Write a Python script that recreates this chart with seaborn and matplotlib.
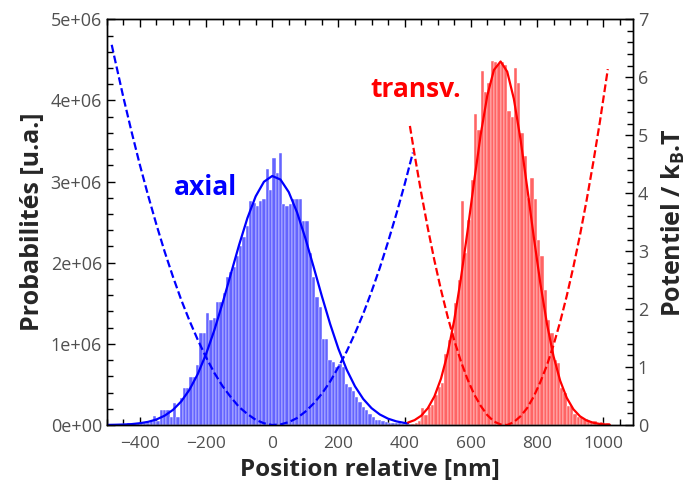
import numpy as np
import pandas as pd
import seaborn as sns
import matplotlib.pyplot as plt
from matplotlib.ticker import MultipleLocator, FuncFormatter

# Histogram data (bar heights in units of 1e6, 10 nm bins)
# ------------------------------------------------------
bin_width = 10
axial_first_center = -485
axial_counts = [
    0.00, 0.01, 0.00, 0.01, 0.01, 0.02, 0.01, 0.03, 0.02, 0.03,
    0.02, 0.03, 0.05, 0.11, 0.05, 0.19, 0.19, 0.19, 0.10, 0.27,
    0.10, 0.33, 0.45, 0.46, 0.59, 0.59, 0.74, 1.13, 1.13, 1.38,
    1.30, 1.32, 1.51, 1.51, 1.63, 1.82, 1.89, 1.95, 2.08, 2.20,
    2.32, 2.45, 2.76, 2.74, 2.70, 2.76, 2.78, 3.15, 2.90, 3.29,
    3.11, 3.35, 2.72, 2.70, 2.72, 2.78, 2.78, 2.78, 2.52, 2.52,
    2.12, 1.83, 1.58, 1.46, 1.06, 1.06, 0.80, 0.78, 0.72, 0.75,
    0.72, 0.51, 0.47, 0.42, 0.35, 0.28, 0.22, 0.18, 0.14, 0.10,
    0.06, 0.06, 0.05, 0.04, 0.03, 0.03, 0.02, 0.02, 0.01, 0.01,
    0.01,
]
transv_first_center = 415
transv_counts = [
    0.00, 0.01, 0.02, 0.05, 0.21, 0.12, 0.22, 0.25, 0.37, 0.47,
    0.52, 0.88, 1.05, 1.13, 1.50, 1.79, 2.76, 2.12, 2.53, 3.02,
    3.83, 3.64, 4.36, 4.11, 4.22, 4.49, 4.47, 4.45, 4.47, 4.44,
    3.87, 3.79, 4.40, 4.22, 3.60, 3.31, 2.80, 3.05, 2.78, 2.28,
    2.08, 1.66, 1.30, 1.13, 0.80, 0.76, 0.45, 0.39, 0.23, 0.23,
    0.14, 0.10, 0.10, 0.08, 0.06, 0.04, 0.05, 0.03, 0.04, 0.01,
    0.02,
]

# Gaussian fits (units of 1e6)
axial_fit_x = [-500, -475, -450, -425, -400, -375, -350, -325, -300, -275,
               -250, -225, -200, -175, -150, -125, -100, -75, -50, -25,
               0, 25, 50, 75, 100, 125, 150, 175, 200, 225,
               250, 275, 300, 325, 350, 375, 400, 410]
axial_fit_y = [0.001, 0.003, 0.006, 0.011, 0.022, 0.039, 0.068, 0.115, 0.186, 0.290,
               0.435, 0.628, 0.873, 1.167, 1.503, 1.862, 2.221, 2.550, 2.818, 2.998,
               3.069, 3.025, 2.870, 2.621, 2.304, 1.949, 1.588, 1.245, 0.939, 0.682,
               0.477, 0.321, 0.208, 0.130, 0.078, 0.045, 0.025, 0.020]
transv_fit_x = [410, 430, 450, 470, 490, 510, 530, 550, 570, 590,
                610, 630, 650, 670, 690, 710, 730, 750, 770, 790,
                810, 830, 850, 870, 890, 910, 930, 950, 970, 990,
                1010, 1020]
transv_fit_y = [0.030, 0.060, 0.114, 0.206, 0.352, 0.572, 0.882, 1.294, 1.803, 2.386,
                3.000, 3.582, 4.063, 4.377, 4.480, 4.355, 4.021, 3.527, 2.938, 2.326,
                1.749, 1.249, 0.847, 0.546, 0.334, 0.194, 0.107, 0.056, 0.028, 0.013,
                0.006, 0.004]

# Harmonic potentials (k_B.T, right axis)
axial_pot_x = [-485, -475, -450, -425, -400, -375, -350, -325, -300, -275,
               -250, -225, -200, -175, -150, -125, -100, -75, -50, -25,
               0, 25, 50, 75, 100, 125, 150, 175, 200, 225,
               250, 275, 300, 325, 350, 375, 400, 425]
axial_pot_y = [6.56, 6.30, 5.66, 5.06, 4.49, 3.96, 3.46, 2.99, 2.56, 2.16,
               1.80, 1.47, 1.17, 0.90, 0.67, 0.48, 0.31, 0.19, 0.09, 0.03,
               0.00, 0.01, 0.05, 0.12, 0.23, 0.37, 0.54, 0.75, 1.00, 1.27,
               1.58, 1.92, 2.30, 2.71, 3.16, 3.64, 4.15, 4.70]
transv_pot_x = [416, 430, 450, 470, 490, 510, 530, 550, 570, 590,
                610, 630, 650, 670, 690, 710, 730, 750, 770, 790,
                810, 830, 850, 870, 890, 910, 930, 950, 970, 990,
                1014]
transv_pot_y = [5.16, 4.67, 4.01, 3.40, 2.84, 2.33, 1.87, 1.46, 1.10, 0.79,
                0.53, 0.33, 0.17, 0.06, 0.01, 0.00, 0.05, 0.15, 0.29, 0.49,
                0.74, 1.03, 1.38, 1.78, 2.23, 2.73, 3.28, 3.88, 4.53, 5.23,
                6.14]


def hist_frame(first_center, counts):
    centers = first_center + bin_width * np.arange(len(counts))
    lo = float(centers[0] - bin_width / 2)
    hi = float(centers[-1] + bin_width / 2)
    df = pd.DataFrame({'position': centers.astype(float),
                       'count': np.array(counts) * 1e6})
    return df, (lo, hi)


axial_df, axial_range = hist_frame(axial_first_center, axial_counts)
transv_df, transv_range = hist_frame(transv_first_center, transv_counts)

# Style
sns.set_style('ticks')
plt.rcParams['font.family'] = ['Open Sans', 'DejaVu Sans']
plt.rcParams['mathtext.fontset'] = 'custom'
plt.rcParams['mathtext.rm'] = 'Open Sans:bold'
plt.rcParams['mathtext.it'] = 'Open Sans:bold'

fig = plt.figure(figsize=(6.86, 4.95), dpi=100)
ax = fig.add_axes([0.1556, 0.1414, 0.7671, 0.8196])
ax2 = ax.twinx()

# Histograms
sns.histplot(data=axial_df, x='position', weights='count', binwidth=bin_width,
             binrange=axial_range, color='#6464ff', alpha=1,
             edgecolor='white', linewidth=0.3, ax=ax)
sns.histplot(data=transv_df, x='position', weights='count', binwidth=bin_width,
             binrange=transv_range, color='#ff6464', alpha=1,
             edgecolor='white', linewidth=0.3, ax=ax)

# Gaussian fits
sns.lineplot(x=axial_fit_x, y=np.array(axial_fit_y) * 1e6, color='#0000ff', lw=1.6, ax=ax)
sns.lineplot(x=transv_fit_x, y=np.array(transv_fit_y) * 1e6, color='#ff0000', lw=1.6, ax=ax)

# Potentials
sns.lineplot(x=axial_pot_x, y=axial_pot_y, color='#0000ff', lw=1.6,
             linestyle=(0, (3.5, 1.5)), ax=ax2)
sns.lineplot(x=transv_pot_x, y=transv_pot_y, color='#ff0000', lw=1.6,
             linestyle=(0, (3.5, 1.5)), ax=ax2)

ax.text(-203, 2.93e6, 'axial', color='#0000ff', fontweight='bold', fontsize=19,
        ha='center', va='center')
ax.text(433, 4.14e6, 'transv.', color='#ff0000', fontweight='bold', fontsize=19,
        ha='center', va='center')

# Axes
ax.set_xlim(-500, 1090)
ax.set_ylim(0, 5e6)
ax2.set_ylim(0, 7)

ax.xaxis.set_major_locator(MultipleLocator(200))
ax.xaxis.set_minor_locator(MultipleLocator(50))
ax.yaxis.set_major_locator(MultipleLocator(1e6))
ax.yaxis.set_minor_locator(MultipleLocator(2e5))
ax.yaxis.set_major_formatter(FuncFormatter(lambda v, p: f'{v:.0e}'))
ax2.yaxis.set_major_locator(MultipleLocator(1))
ax2.yaxis.set_minor_locator(MultipleLocator(0.2))

tick_col = '#505050'
ax.tick_params(which='both', direction='in', top=True, right=False,
               labelsize=13, labelcolor=tick_col, color='black', width=1)
ax.tick_params(axis='x', labelsize=12.5, pad=8)
ax.tick_params(which='major', length=6)
ax.tick_params(which='minor', length=4)
ax2.tick_params(which='both', direction='in', labelsize=13,
                labelcolor=tick_col, color='black', width=1)
ax2.tick_params(which='major', length=6)
ax2.tick_params(which='minor', length=4)

for a in (ax, ax2):
    for s in a.spines.values():
        s.set_visible(True)
        s.set_color('black')
        s.set_linewidth(1)

ax.set_xlabel('Position relative [nm]', fontsize=17.5, fontweight='bold', labelpad=4)
ax.set_ylabel('Probabilités [u.a.]', fontsize=18, fontweight='bold', labelpad=4)
ax2.set_ylabel(r'Potentiel / k$_\mathrm{B}$.T', fontsize=18, fontweight='bold', labelpad=8)

fig.savefig('out.png', dpi=100)
